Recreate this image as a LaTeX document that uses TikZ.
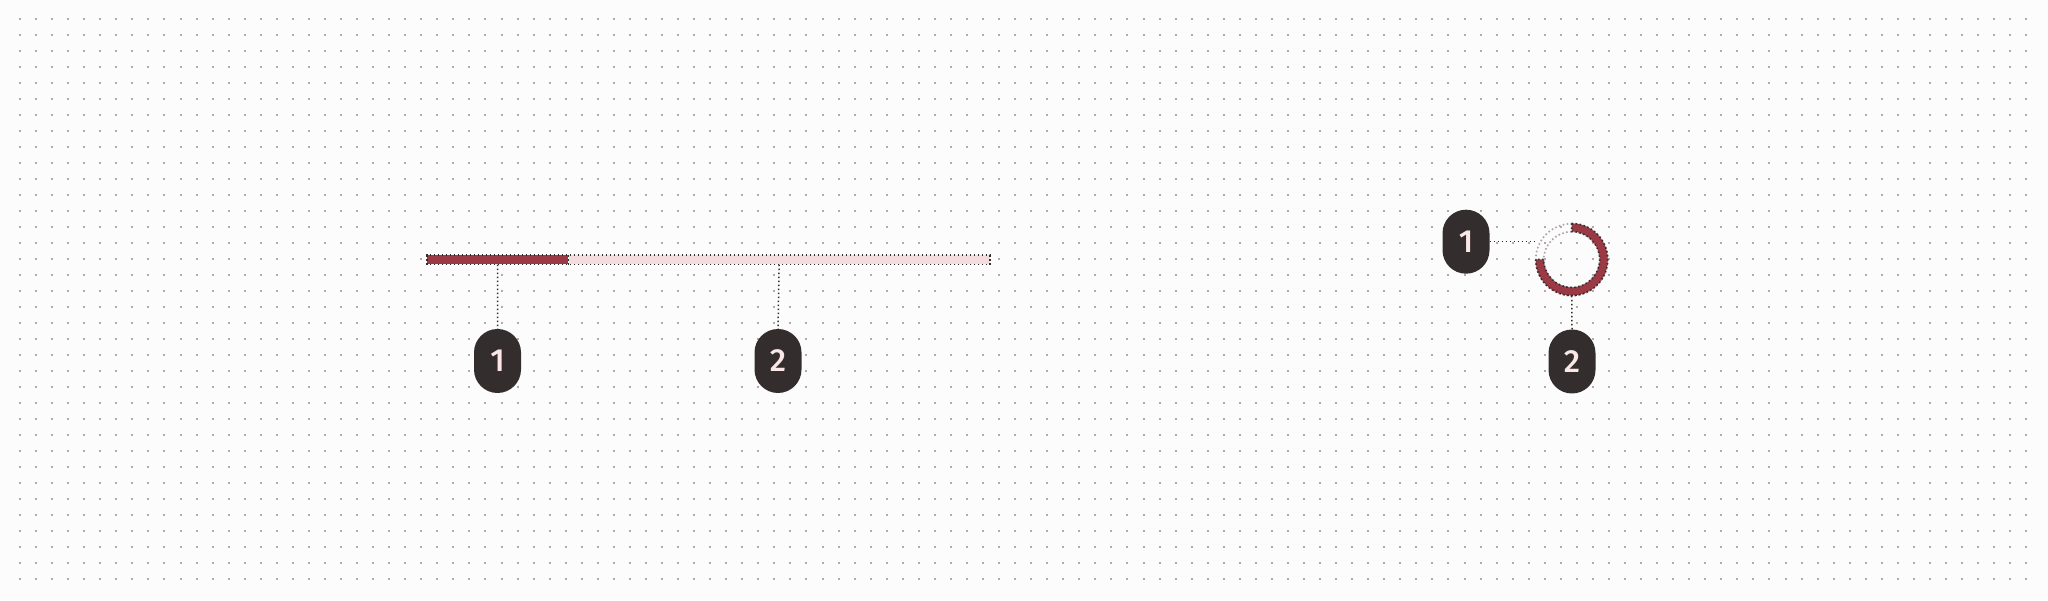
\documentclass[tikz,border=0pt]{standalone}
\usepackage{fontspec}
\setmainfont{Fira Sans Medium}
\definecolor{pgbg}{RGB}{252,252,252}
\definecolor{pgdot}{RGB}{176,170,173}
\definecolor{pgred}{RGB}{155,58,68}
\definecolor{pgpink}{RGB}{244,220,222}
\definecolor{pgink}{RGB}{51,45,45}
\definecolor{pgtrack}{RGB}{176,160,165}
\definecolor{pglabel}{RGB}{251,232,230}
\usetikzlibrary{positioning,calc}
\tikzset{
  badge/.style={fill=pgink, rounded corners=23.5pt, minimum width=47pt, minimum height=64pt,
    inner sep=0pt, text=pglabel, font=\fontsize{32}{32}\selectfont},
  leader/.style={pgink, line width=1.5pt, dash pattern=on 1.5pt off 2.5pt},
  outline/.style={line width=1.6pt, dash pattern=on 1.6pt off 2.4pt}
}

\begin{document}
\begin{tikzpicture}[x=1pt, y=1pt]
  % Canvas and dot grid
  \useasboundingbox (0,0) rectangle (2048,600);
  \fill[pgbg] (0,0) rectangle (2048,600);
  \foreach \i in {0,...,125}
    \foreach \j in {0,...,35}
      \fill[pgdot] ({20+\i*16.05-1}, {581-\j*16-1}) rectangle +(2,2);

  % Linear indicator
  \node[fill=pgred, minimum width=141pt, minimum height=9pt, inner sep=0pt, anchor=west] (done) at (427,340) {};
  \node[fill=pgpink, minimum width=421pt, minimum height=9pt, inner sep=0pt, anchor=west] (track) at (done.east) {};
  \draw[pgink, outline] (done.south west) rectangle (track.north east);
  \draw[pgink, outline] (done.north east) -- (done.south east);

  % Circular indicator
  \node[circle, minimum size=72pt, inner sep=0pt] (ring) at (1571.7,340.3) {};
  \draw[pgtrack, outline] (ring.center) circle (36);
  \draw[pgtrack, outline] (ring.center) circle (28);
  \filldraw[fill=pgred, draw=pgink, outline] (ring.north) arc[start angle=90, end angle=-180, radius=36]
    -- ++(8,0) arc[start angle=-180, end angle=90, radius=28] -- cycle;

  % Badges
  \node[badge] (b1) at (497.5,239) {1};
  \node[badge] (b2) at (778,239) {2};
  \node[badge] (c1) at (1466,358.3) {1};
  \node[badge] (c2) at (1572,238.5) {2};

  % Leaders
  \draw[leader] (done.south) -- (b1.north);
  \draw[leader] (track.south) -- (b2.north);
  \draw[leader] (c1.east) -- (c1.east -| ring.west);
  \draw[leader] (ring.south) -- (c2.north);
\end{tikzpicture}
\end{document}
